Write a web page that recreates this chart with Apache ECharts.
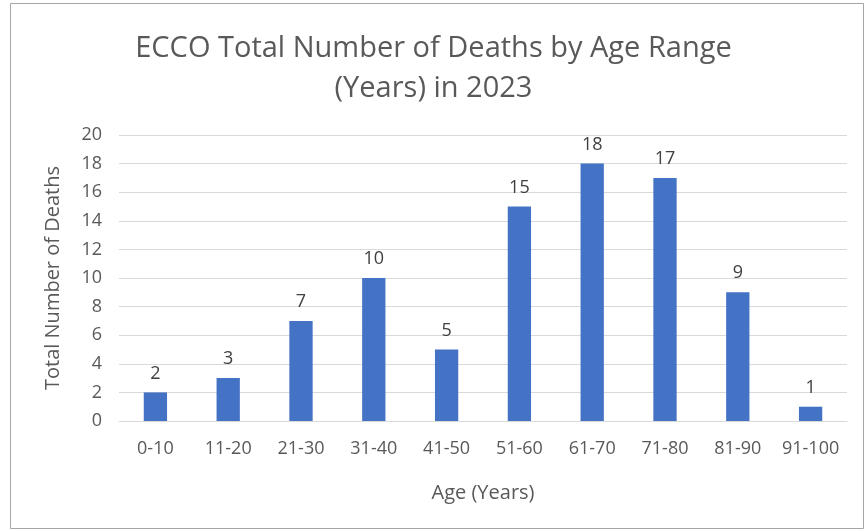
<!DOCTYPE html>
<html><head><meta charset="utf-8">
<script src="https://cdn.jsdelivr.net/npm/echarts@6/dist/echarts.min.js"></script>
<style>html,body{margin:0;padding:0;background:#fff}#c{width:867px;height:531px}</style>
</head><body><div id="c"></div>
<script>
const categories = ['0-10','11-20','21-30','31-40','41-50','51-60','61-70','71-80','81-90','91-100'];
const deaths = [2,3,7,10,5,15,18,17,9,1];
const titleText = 'ECCO Total Number of Deaths by Age Range\n(Years) in 2023';
const yAxisName = 'Total Number of Deaths';
const xAxisName = 'Age (Years)';
const FONT = '"Open Sans", sans-serif';
const chart = echarts.init(document.getElementById('c'), null, {renderer:'canvas'});
chart.setOption({
  animation:false,
  backgroundColor:'#fff',
  graphic:[{type:'rect',shape:{x:10.5,y:3.5,width:853,height:525},style:{fill:'none',stroke:'#a6a6a6',lineWidth:1}}],
  title:{text:titleText,left:'center',top:24,textStyle:{fontFamily:FONT,fontSize:29,fontWeight:'normal',color:'#595959',lineHeight:40}},
  grid:{left:119,right:20,top:135,bottom:110,containLabel:false},
  xAxis:{type:'category',data:categories,
    name:xAxisName,nameLocation:'middle',nameGap:62,nameTextStyle:{fontFamily:FONT,fontSize:20,color:'#595959'},
    axisLine:{lineStyle:{color:'#d9d9d9',width:1}},axisTick:{show:false},
    axisLabel:{interval:0,fontFamily:FONT,fontSize:18,color:'#595959',margin:19}},
  yAxis:{type:'value',min:0,max:20,interval:2,
    name:yAxisName,nameLocation:'middle',nameGap:56,nameTextStyle:{fontFamily:FONT,fontSize:20,color:'#595959'},
    axisLine:{show:false},axisTick:{show:false},
    splitLine:{lineStyle:{color:'#d9d9d9',width:1}},
    axisLabel:{fontFamily:FONT,fontSize:18,color:'#595959',margin:17}},
  series:[{type:'bar',data:deaths,barWidth:'32%',itemStyle:{color:'#4472C4'},
    label:{show:true,position:'top',distance:10,fontFamily:FONT,fontSize:18,color:'#404040'}}]
});
</script></body></html>
